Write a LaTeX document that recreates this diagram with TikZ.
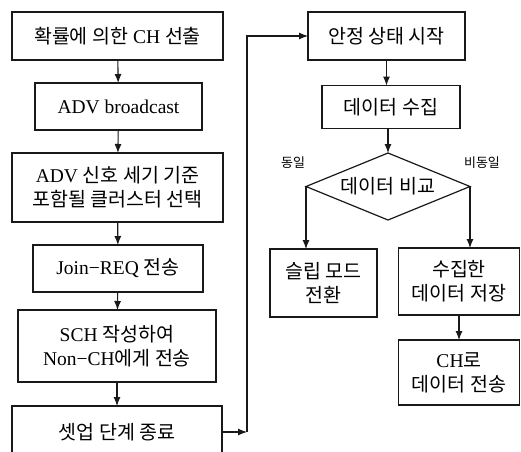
\documentclass[tikz,border=0pt]{standalone}
\usepackage{fontspec}
\setmainfont{Liberation Serif}
\newfontfamily\kr{Noto Sans CJK KR}
\usetikzlibrary{arrows.meta,shapes.geometric}
\begin{document}
\begin{tikzpicture}[x=1pt,y=-1pt,
  box/.style={draw=black!90, line width=1.5pt, inner sep=0pt, outer sep=0pt, align=center,
    font=\fontsize{19.5}{24}\selectfont},
  dia/.style={draw=black!90, line width=1.2pt, shape=diamond, aspect=2.45, inner sep=0pt,
    outer sep=0pt, minimum width=164pt, minimum height=67pt, font=\fontsize{19.5}{24}\selectfont},
  arr/.style={draw=black!90, line width=1.1pt, -{Latex[length=9pt,width=7pt]}},
  lbl/.style={font=\kr\fontsize{13}{15}\selectfont, inner sep=0pt}]
\useasboundingbox (0,0) rectangle (521,451);
\clip (0,0) rectangle (521,451);
% left column
\node[box, minimum width=211pt, minimum height=48pt] (b1) at (117.5,36) {{\kr 확률에 의한} CH {\kr 선출}};
\node[box, minimum width=167pt, minimum height=47pt] (b2) at (118.5,106.5) {ADV broadcast};
\node[box, minimum width=211pt, minimum height=69pt] (b3) at (117.5,187.5) {ADV {\kr 신호 세기 기준}\\{\kr 포함될 클러스터 선택}};
\node[box, minimum width=170pt, minimum height=47pt] (b4) at (118,268.5) {Join−REQ {\kr 전송}};
\node[box, minimum width=198pt, minimum height=72pt] (b5) at (117,346) {SCH {\kr 작성하여}\\Non−CH{\kr 에게 전송}};
\node[box, minimum width=210pt, minimum height=52pt] (b6) at (117,432) {\kr 셋업 단계 종료};
% right column
\node[box, minimum width=157pt, minimum height=48pt] (b7) at (386.5,36) {\kr 안정 상태 시작};
\node[box, minimum width=138pt, minimum height=43pt] (b8) at (391,107) {\kr 데이터 수집};
\node[dia] (d) at (388,186.5) {\kr 데이터 비교};
\node[box, minimum width=107pt, minimum height=68pt] (b9) at (323.5,283) {{\kr 슬립 모드}\\{\kr 전환}};
\node[box, minimum width=121pt, minimum height=67pt] (b10) at (459,281.5) {{\kr 수집한}\\{\kr 데이터 저장}};
\node[box, minimum width=121pt, minimum height=65pt] (b11) at (459,372.5) {CH{\kr 로}\\{\kr 데이터 전송}};
\node[lbl] (l1) at (293,163) {동일};
\node[lbl] (l2) at (482,163) {비동일};
% connectors
\draw[arr] (b1) -- (b2);
\draw[arr] (b2) -- (b3);
\draw[arr] (b3) -- (b4);
\draw[arr] (b4) -- (b5);
\draw[arr] (b5) -- (b6);
\coordinate (lp) at (247,432);
\draw[arr] (b6.east) -- (lp);
\draw[arr] (lp) |- (b7.west);
\draw[arr] (b7.south) -- (b7.south |- b8.north);
\draw[arr] (b8.south -| d.north) -- (d.north);
\draw[arr] (d.west) -- (d.west |- b9.north);
\draw[arr] (d.east) -- (d.east |- b10.north);
\draw[arr] (b10.south) -- (b11.north);
\end{tikzpicture}
\end{document}
